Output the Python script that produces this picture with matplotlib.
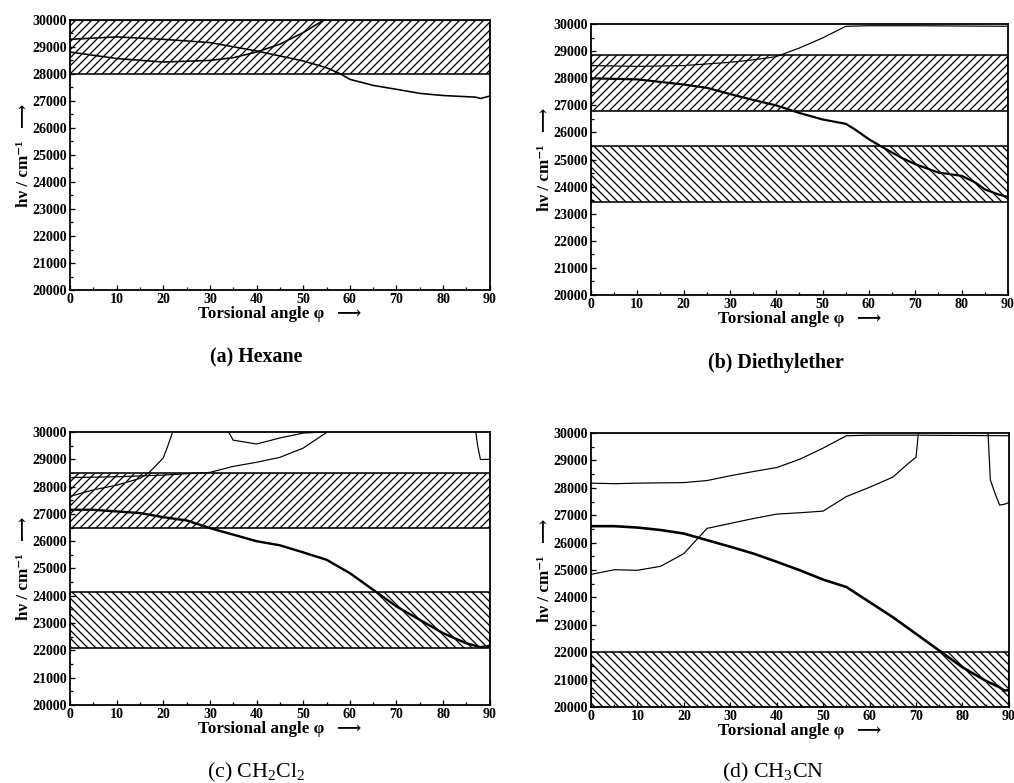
import numpy as np
import matplotlib.pyplot as plt
from matplotlib.ticker import MultipleLocator

plt.rcParams['font.family'] = ['Liberation Serif', 'DejaVu Serif', 'DejaVu Sans']
plt.rcParams['mathtext.fontset'] = 'custom'
plt.rcParams['mathtext.rm'] = 'Liberation Serif'
plt.rcParams['hatch.linewidth'] = 1.3

# ---- (a) Hexane ----
a_bands = [(28000, 30000, '///')]
a_x1 = [0, 10, 20, 30, 40, 50, 55, 58, 60, 65, 70, 75, 80, 87, 88, 90]
a_y1 = [29280, 29370, 29280, 29160, 28850, 28480, 28230, 28000, 27800, 27575, 27430, 27280, 27200, 27140, 27090, 27180]
a_x2 = [0, 10, 20, 30, 35, 40, 45, 50, 54.5]
a_y2 = [28810, 28570, 28440, 28500, 28600, 28810, 29100, 29530, 30000]

# ---- (b) Diethylether ----
b_bands = [(26800, 28850, '///'), (23450, 25500, '\\\\\\')]
b_x1 = [0, 10, 20, 30, 35, 40, 45, 50, 55, 60, 70, 80, 90]
b_y1 = [28470, 28440, 28470, 28590, 28680, 28800, 29120, 29490, 29920, 29940, 29940, 29930, 29920]
b_x2 = [0, 10, 20, 25, 30, 35, 40, 45, 50, 55, 57, 60, 63, 67, 70, 75, 80, 83, 85, 88, 90]
b_y2 = [28000, 27960, 27770, 27650, 27420, 27200, 27000, 26720, 26480, 26320, 26110, 25750,
        25450, 25070, 24830, 24520, 24400, 24150, 23900, 23710, 23620]

# ---- (c) CH2Cl2 ----
c_bands = [(26500, 28500, '///'), (22100, 24150, '\\\\\\')]
c_x1 = [0, 10, 20, 25, 30, 35, 40, 45, 50, 55]
c_y1 = [28330, 28360, 28420, 28470, 28520, 28740, 28890, 29070, 29410, 29980]
c_x2 = [0, 5, 10, 15, 17, 20, 21, 22]
c_y2 = [27640, 27880, 28050, 28300, 28520, 29050, 29500, 30000]
c_x3 = [34, 35, 40, 45, 50, 55]
c_y3 = [30000, 29700, 29560, 29780, 29960, 30000]
c_x4 = [87, 87.4, 88, 90]
c_y4 = [30000, 29500, 28990, 29000]
c_x5 = [0, 5, 10, 15, 20, 25, 30, 35, 40, 45, 50, 55, 60, 65, 70, 75, 80, 85, 88, 90]
c_y5 = [27150, 27150, 27090, 27030, 26880, 26760, 26480, 26240, 26000, 25850, 25590, 25320,
        24830, 24220, 23610, 23120, 22630, 22260, 22120, 22170]

# ---- (d) CH3CN ----
d_bands = [(20000, 22000, '\\\\\\')]
d_x1 = [0, 5, 10, 20, 25, 30, 35, 40, 45, 50, 55, 60, 70, 80, 90]
d_y1 = [28170, 28150, 28170, 28190, 28265, 28440, 28595, 28740, 29045, 29450, 29900, 29920, 29920, 29910, 29900]
d_x2 = [0, 5, 10, 15, 20, 22, 25, 30, 35, 40, 45, 50, 55, 60, 65, 68, 70, 70.5]
d_y2 = [24840, 25010, 24990, 25135, 25600, 25970, 26520, 26700, 26880, 27040, 27090, 27150,
        27680, 28020, 28390, 28840, 29120, 30000]
d_x3 = [85.5, 86, 87, 88, 89, 90]
d_y3 = [30000, 28290, 27800, 27370, 27400, 27460]
d_x4 = [0, 5, 10, 15, 20, 25, 30, 35, 40, 45, 50, 55, 60, 65, 70, 75, 80, 85, 88, 89, 90]
d_y4 = [26600, 26600, 26550, 26460, 26330, 26090, 25850, 25600, 25300, 24990, 24650, 24380,
        23830, 23280, 22670, 22060, 21450, 20960, 20720, 20600, 20620]

panels = [
    ([0.069, 0.6296, 0.414, 0.345], a_bands,
     [(a_x1, a_y1, 1.6), (a_x2, a_y2, 1.6)], '(a) Hexane', 'bold', (0.253, 0.543)),
    ([0.5828, 0.6232, 0.4112, 0.346], b_bands,
     [(b_x1, b_y1, 1.2), (b_x2, b_y2, 2.2)], '(b) Diethylether', 'bold', (0.765, 0.537)),
    ([0.069, 0.0996, 0.414, 0.3487], c_bands,
     [(c_x1, c_y1, 1.2), (c_x2, c_y2, 1.2), (c_x3, c_y3, 1.2), (c_x4, c_y4, 1.2), (c_x5, c_y5, 2.4)],
     '(c) CH$_2$Cl$_2$', 'normal', (0.253, 0.014)),
    ([0.5828, 0.097, 0.4122, 0.35], d_bands,
     [(d_x1, d_y1, 1.2), (d_x2, d_y2, 1.2), (d_x3, d_y3, 1.2), (d_x4, d_y4, 2.6)],
     '(d) CH$_3$CN', 'normal', (0.762, 0.014)),
]

fig = plt.figure(figsize=(1014 / 72, 783 / 72), dpi=72)

for rect, bands, curves, caption, cw, cpos in panels:
    ax = fig.add_axes(rect)
    for lo, hi, h in bands:
        ax.fill_between([0, 90], [lo, lo], [hi, hi], facecolor='none', edgecolor='black',
                        hatch=h, linewidth=1.6)
    for xs, ys, lw in curves:
        ax.plot(xs, ys, color='black', lw=lw)
    ax.set_xlim(0, 90)
    ax.set_ylim(20000, 30000)
    ax.xaxis.set_major_locator(MultipleLocator(10))
    ax.xaxis.set_minor_locator(MultipleLocator(5))
    ax.yaxis.set_major_locator(MultipleLocator(1000))
    ax.yaxis.set_minor_locator(MultipleLocator(500))
    ax.tick_params(which='both', direction='in', top=False, right=False, width=1.3)
    ax.tick_params(which='major', length=5, labelsize=14)
    ax.tick_params(axis='x', which='major', pad=3)
    ax.tick_params(axis='y', which='major', pad=3)
    ax.tick_params(which='minor', length=3)
    for lab in ax.get_xticklabels() + ax.get_yticklabels():
        lab.set_fontweight('bold')
    for s in ax.spines.values():
        s.set_linewidth(1.8)
    ax.set_xlabel('Torsional angle φ   ⟶', fontsize=17, fontweight='bold', labelpad=0)
    ax.set_ylabel('hν / cm⁻¹   ⟶', fontsize=17, fontweight='bold', labelpad=0)
    fig.text(cpos[0], cpos[1], caption, ha='center', va='center',
             fontsize=20 if cw == 'bold' else 22, fontweight=cw)

fig.savefig('out.png', dpi=72)
